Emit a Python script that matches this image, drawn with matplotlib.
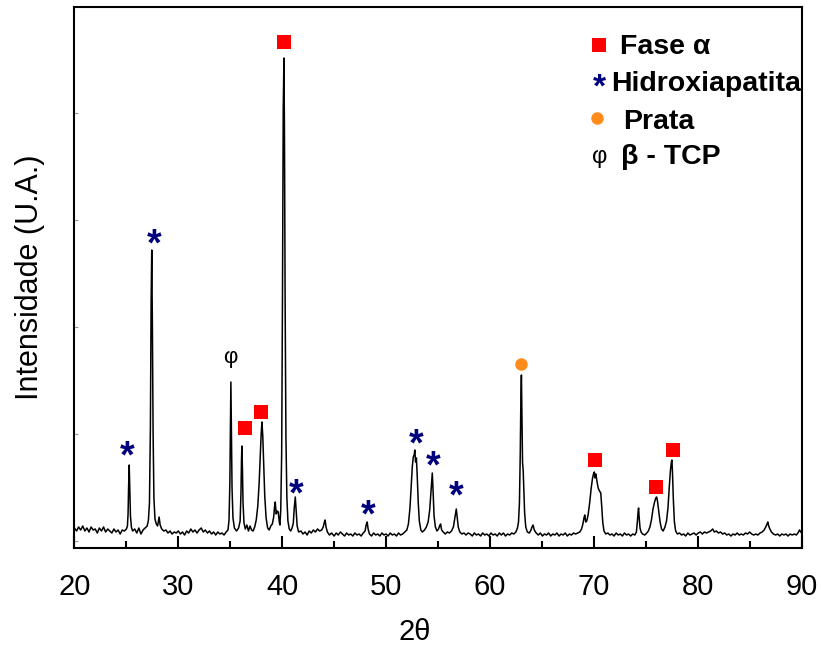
#Libraries

import numpy as np
import matplotlib
matplotlib.use("Agg")
import matplotlib.pyplot as plt


# Difratograma (2theta, intensidade) - dividido por regiao
region_20_35 = [
    (20.0, 20), (20.2, 17), (20.4, 21), (20.6, 18), (20.8, 22), (21.0, 17), (21.2, 20), (21.4, 16),
    (21.6, 21), (21.8, 18), (22.0, 19), (22.2, 15), (22.4, 20), (22.6, 17), (22.8, 21), (23.0, 16),
    (23.2, 19), (23.4, 17), (23.6, 15), (23.8, 19), (24.0, 16), (24.2, 18), (24.4, 14), (24.6, 18),
    (24.8, 17), (25.0, 19), (25.1, 22), (25.16, 34), (25.21, 60), (25.27, 83), (25.33, 58), (25.39, 32),
    (25.48, 21), (25.6, 17), (25.8, 19), (26.0, 15), (26.2, 20), (26.4, 14), (26.6, 18), (26.8, 20),
    (27.0, 22), (27.12, 28), (27.22, 45), (27.31, 120), (27.38, 245), (27.44, 298), (27.5, 225),
    (27.57, 115), (27.65, 50), (27.75, 29), (27.88, 24), (28.0, 22), (28.08, 27), (28.15, 31),
    (28.25, 23), (28.4, 19), (28.6, 17), (28.8, 18), (29.0, 15), (29.2, 17), (29.4, 14), (29.6, 16),
    (29.8, 15), (30.0, 17), (30.2, 14), (30.4, 16), (30.6, 13), (30.8, 17), (31.0, 15), (31.2, 19),
    (31.4, 16), (31.6, 18), (31.8, 15), (32.0, 18), (32.2, 20), (32.4, 16), (32.6, 18), (32.8, 15),
    (33.0, 17), (33.2, 14), (33.4, 16), (33.6, 13), (33.8, 16), (34.0, 14), (34.2, 15), (34.4, 13),
    (34.6, 16), (34.78, 18),
]

region_35_42 = [
    (34.88, 28), (34.96, 65), (35.02, 130), (35.06, 166), (35.11, 120), (35.17, 60), (35.26, 30),
    (35.4, 20), (35.6, 17), (35.8, 20), (35.95, 27), (36.03, 55), (36.08, 88), (36.12, 102),
    (36.17, 80), (36.23, 45), (36.32, 25), (36.45, 19), (36.6, 23), (36.75, 17), (36.9, 22),
    (37.05, 18), (37.2, 17), (37.35, 21), (37.5, 28), (37.65, 42), (37.78, 65), (37.9, 95),
    (37.98, 115), (38.05, 126), (38.13, 112), (38.22, 82), (38.32, 52), (38.45, 30), (38.6, 20),
    (38.75, 18), (38.9, 22), (39.05, 24), (39.18, 31), (39.27, 42), (39.33, 46), (39.42, 34),
    (39.52, 37), (39.62, 36), (39.72, 26), (39.78, 23), (39.86, 38), (39.95, 95), (40.03, 260),
    (40.1, 440), (40.17, 490), (40.22, 410), (40.28, 250), (40.36, 110), (40.45, 50), (40.55, 27),
    (40.68, 19), (40.82, 17), (40.95, 20), (41.07, 25), (41.16, 40), (41.26, 51), (41.34, 38),
    (41.44, 22), (41.58, 16), (41.8, 17),
]

region_42_62 = [
    (42.0, 14), (42.2, 16), (42.4, 13), (42.6, 17), (42.8, 15), (43.0, 18), (43.2, 16), (43.4, 19),
    (43.6, 17), (43.8, 18), (43.95, 21), (44.06, 26), (44.13, 28), (44.22, 21), (44.35, 16),
    (44.55, 13), (44.75, 15), (45.0, 12), (45.2, 15), (45.4, 13), (45.6, 16), (45.8, 14), (46.0, 12),
    (46.2, 15), (46.4, 13), (46.6, 14), (46.8, 12), (47.0, 15), (47.2, 13), (47.4, 14), (47.6, 12),
    (47.8, 15), (47.98, 17), (48.08, 23), (48.18, 26), (48.27, 19), (48.4, 14), (48.6, 12),
    (48.8, 15), (49.0, 13), (49.2, 14), (49.4, 12), (49.6, 15), (49.8, 13), (50.0, 14), (50.2, 12),
    (50.4, 15), (50.6, 13), (50.8, 14), (51.0, 12), (51.2, 15), (51.4, 13), (51.6, 14), (51.8, 16),
    (52.0, 18), (52.15, 24), (52.3, 40), (52.42, 62), (52.53, 82), (52.62, 91), (52.7, 93),
    (52.77, 98), (52.84, 86), (52.92, 90), (53.0, 72), (53.1, 45), (53.2, 27), (53.35, 18),
    (53.5, 16), (53.7, 18), (53.88, 21), (54.05, 26), (54.2, 38), (54.33, 58), (54.45, 75),
    (54.53, 56), (54.62, 32), (54.75, 21), (54.9, 17), (55.05, 19), (55.15, 22), (55.25, 24),
    (55.35, 18), (55.5, 16), (55.7, 14), (55.9, 16), (56.1, 15), (56.3, 17), (56.48, 21),
    (56.6, 29), (56.7, 36), (56.76, 39), (56.84, 31), (56.95, 21), (57.1, 16), (57.3, 14),
    (57.5, 15), (57.7, 13), (57.9, 15), (58.1, 14), (58.3, 12), (58.5, 15), (58.7, 13), (58.9, 14),
    (59.1, 12), (59.3, 15), (59.5, 13), (59.7, 14), (59.9, 12), (60.1, 15), (60.3, 13), (60.5, 14),
    (60.7, 12), (60.9, 15), (61.1, 13), (61.3, 15), (61.5, 12), (61.7, 14), (61.9, 13), (62.1, 15),
    (62.3, 14), (62.5, 16),
]

region_62_72 = [
    (62.65, 20), (62.75, 26), (62.84, 45), (62.92, 95), (62.98, 150), (63.03, 173), (63.08, 130),
    (63.14, 85), (63.2, 78), (63.26, 60), (63.34, 35), (63.45, 21), (63.6, 16), (63.8, 15),
    (63.95, 18), (64.05, 21), (64.15, 23), (64.27, 18), (64.45, 15), (64.65, 13), (64.85, 15),
    (65.05, 12), (65.25, 14), (65.45, 13), (65.65, 15), (65.85, 12), (66.05, 14), (66.25, 13),
    (66.45, 15), (66.65, 12), (66.85, 14), (67.05, 13), (67.25, 15), (67.45, 12), (67.65, 14),
    (67.85, 13), (68.05, 15), (68.25, 14), (68.45, 15), (68.65, 16), (68.82, 19), (68.95, 24),
    (69.05, 30), (69.13, 33), (69.22, 26), (69.32, 27), (69.45, 33), (69.6, 45), (69.75, 60),
    (69.88, 70), (69.97, 74), (70.05, 76), (70.12, 70), (70.2, 74), (70.3, 67), (70.42, 60),
    (70.55, 57), (70.67, 55), (70.76, 42), (70.86, 26), (70.98, 17), (71.15, 14), (71.35, 15),
    (71.55, 13), (71.75, 14),
]

region_72_90 = [
    (71.95, 12), (72.15, 15), (72.35, 13), (72.55, 14), (72.75, 12), (72.95, 15), (73.15, 13),
    (73.35, 14), (73.55, 12), (73.75, 14), (73.95, 13), (74.1, 16), (74.2, 27), (74.26, 36),
    (74.31, 40), (74.37, 30), (74.45, 20), (74.55, 16), (74.7, 14), (74.9, 13), (75.1, 15),
    (75.25, 17), (75.4, 21), (75.55, 28), (75.7, 39), (75.85, 46), (75.97, 50), (76.05, 51),
    (76.13, 47), (76.24, 38), (76.38, 26), (76.52, 19), (76.68, 17), (76.85, 21), (77.0, 27),
    (77.14, 40), (77.26, 60), (77.38, 78), (77.47, 86), (77.52, 88), (77.58, 74), (77.66, 48),
    (77.76, 26), (77.88, 17), (78.05, 14), (78.25, 15), (78.45, 13), (78.65, 14), (78.85, 12),
    (79.05, 15), (79.25, 13), (79.45, 14), (79.65, 15), (79.85, 13), (80.05, 15), (80.25, 16),
    (80.45, 14), (80.65, 16), (80.85, 15), (81.05, 16), (81.25, 17), (81.45, 19), (81.6, 16),
    (81.8, 17), (82.0, 15), (82.2, 16), (82.4, 14), (82.6, 15), (82.8, 13), (83.0, 14), (83.2, 12),
    (83.4, 14), (83.6, 13), (83.8, 15), (84.0, 13), (84.2, 14), (84.4, 13), (84.6, 15), (84.8, 14),
    (85.0, 16), (85.2, 14), (85.4, 13), (85.6, 14), (85.8, 13), (86.0, 15), (86.2, 16), (86.4, 18),
    (86.55, 21), (86.68, 24), (86.75, 26), (86.84, 22), (86.95, 19), (87.1, 16), (87.3, 14),
    (87.5, 13), (87.7, 14), (87.9, 12), (88.1, 14), (88.3, 13), (88.5, 14), (88.7, 12), (88.9, 14),
    (89.1, 13), (89.3, 14), (89.5, 13), (89.65, 15), (89.8, 18), (90.0, 15),
]

# Identificacao das fases (posicao do simbolo acima do pico)
fase_alpha_x = [40.20, 36.44, 37.98, 70.10, 75.98, 77.62]
fase_alpha_y = [506, 120, 136, 88, 61, 98]
hap_x = [25.06, 27.67, 41.36, 48.30, 52.93, 54.57, 56.79]
hap_y = [95, 307, 57, 36, 107, 85, 55]
prata_x = [62.96]
prata_y = [184]
tcp_x = [35.0]
tcp_y = [190]

RED = "#ff0000"
NAVY = "#00007f"
ORANGE = "#ff8c1a"

plt.rcParams['font.family'] = ['Liberation Sans', 'DejaVu Sans']

trace = np.array(region_20_35 + region_35_42 + region_42_62 + region_62_72 + region_72_90)
two_theta = trace[:, 0]
intensity = trace[:, 1]

fig = plt.figure(figsize=(8.21, 6.52), dpi=100)
ax = fig.add_axes([0.0907, 0.1595, 0.8856, 0.8298])

ax.plot(two_theta, intensity, color='black', linewidth=1.1)

# Simbolos das fases
ax.plot(fase_alpha_x, fase_alpha_y, 's', color=RED, markersize=9.5, markeredgewidth=0)
ax.plot(prata_x, prata_y, 'o', color=ORANGE, markersize=9, markeredgewidth=0)
for x, y in zip(hap_x, hap_y):
    ax.text(x, y, "*", color=NAVY, fontsize=27, fontweight='bold', ha='center', va='center_baseline')
for x, y in zip(tcp_x, tcp_y):
    ax.text(x, y, "φ", color='black', fontsize=16, ha='center', va='center')

# Legenda escrita a mao
leg_x = 0.722
ax.plot([leg_x], [0.93], 's', color=RED, markersize=9.5, markeredgewidth=0, transform=ax.transAxes, clip_on=False)
ax.text(leg_x + 0.029, 0.926, "Fase α", transform=ax.transAxes, fontsize=20.5, fontweight='bold', va='center')
ax.text(leg_x, 0.857, "*", transform=ax.transAxes, color=NAVY, fontsize=24, fontweight='bold', ha='center', va='center_baseline')
ax.text(leg_x + 0.016, 0.857, "Hidroxiapatita", transform=ax.transAxes, fontsize=20.5, fontweight='bold', va='center')
ax.plot([leg_x - 0.003], [0.794], 'o', color=ORANGE, markersize=9, markeredgewidth=0, transform=ax.transAxes, clip_on=False)
ax.text(leg_x + 0.033, 0.787, "Prata", transform=ax.transAxes, fontsize=20.5, fontweight='bold', va='center')
ax.text(leg_x, 0.722, "φ", transform=ax.transAxes, fontsize=17, ha='center', va='center')
ax.text(leg_x + 0.030, 0.722, "β - TCP", transform=ax.transAxes, fontsize=20.5, fontweight='bold', va='center')

# Eixos
ax.set_xlim(20, 90)
ax.set_ylim(0, 541)
ax.set_xticks(np.arange(20, 91, 10))
ax.set_xticks(np.arange(25, 90, 10), minor=True)
ax.set_yticks(np.arange(7, 541, 107))
ax.set_yticklabels([])
ax.tick_params(axis='x', which='major', direction='in', length=9, width=1.5, labelsize=21, pad=18)
ax.tick_params(axis='x', which='minor', direction='in', length=5, width=1.5)
ax.tick_params(axis='y', which='major', direction='in', length=3, width=0.8, color='#999999')
for spine in ax.spines.values():
    spine.set_linewidth(1.5)

ax.set_xlabel("2θ", fontsize=21)
ax.xaxis.set_label_coords(0.468, -0.129)
ax.set_ylabel("Intensidade (U.A.)", fontsize=22)
ax.yaxis.set_label_coords(-0.041, 0.5)

plt.savefig("out.png", dpi=100)
